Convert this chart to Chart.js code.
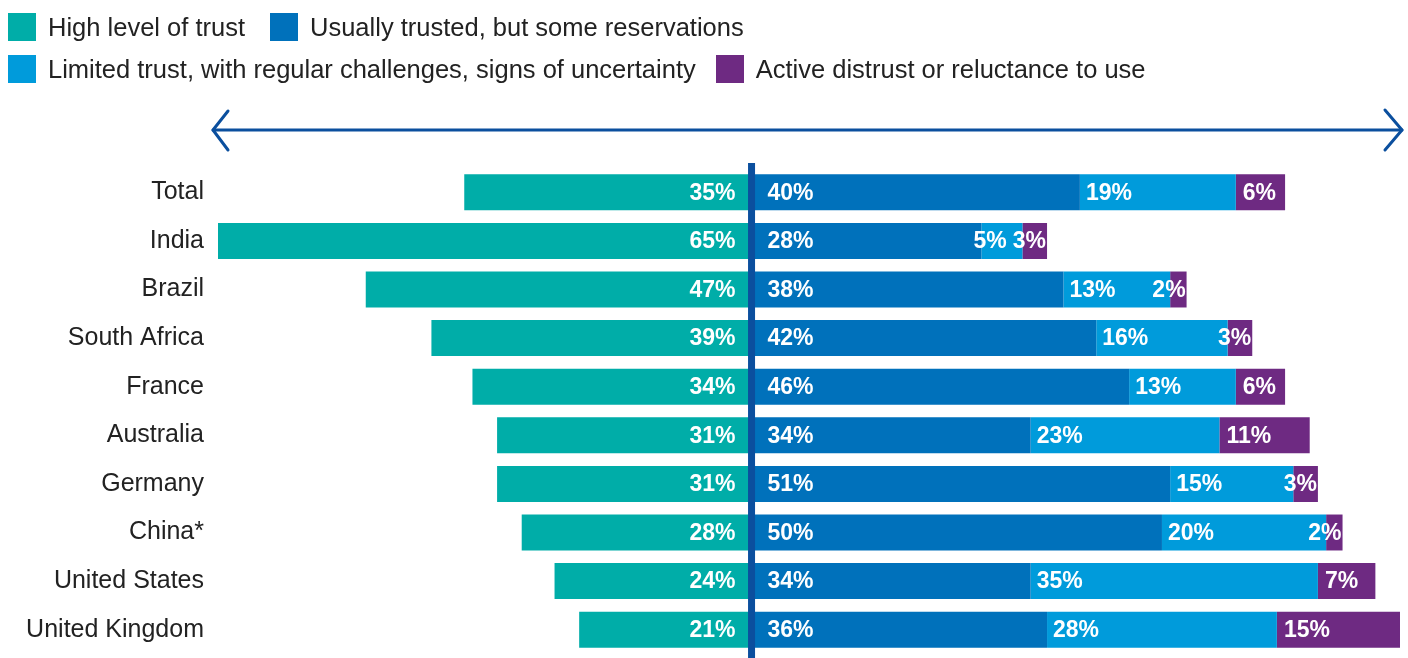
<!DOCTYPE html>
<html><head><meta charset="utf-8">
<script src="https://cdn.jsdelivr.net/npm/chart.js@4.4.1/dist/chart.umd.min.js"></script>
<style>
html,body{margin:0;padding:0;background:#fff;}
#wrap{position:relative;width:1408px;height:658px;overflow:hidden;}
#legend{position:absolute;left:8px;top:0;font-family:"Liberation Sans",Arial,sans-serif;font-size:25.5px;color:#222;}
.row{position:absolute;left:0;display:flex;align-items:center;white-space:nowrap;height:28px;}
.item{display:flex;align-items:center;}
.box{width:28px;height:28px;margin-right:12px;}
canvas{position:absolute;left:0;top:0;}
</style></head>
<body><div id="wrap"><canvas id="c" width="1408" height="683"></canvas><div id="legend"></div></div>
<script>
const categories = ["Total","India","Brazil","South Africa","France","Australia","Germany","China*","United States","United Kingdom"];
const seriesNames = ["High level of trust","Usually trusted, but some reservations","Limited trust, with regular challenges, signs of uncertainty","Active distrust or reluctance to use"];
const high     = [35,65,47,39,34,31,31,28,24,21];
const usually  = [40,28,38,42,46,34,51,50,34,36];
const limited  = [19, 5,13,16,13,23,15,20,35,28];
const distrust = [ 6, 3, 2, 3, 6,11, 3, 2, 7,15];
const colors = ["#00ADA8","#0071BB","#009BDB","#6E2A82"];
const FONT = '"Liberation Sans", Arial, sans-serif';

// HTML legend (two rows)
const legendRows = [[0,1],[2,3]];
const rowGaps = [25,20];
const legend = document.getElementById('legend');
legendRows.forEach((r,ri)=>{
  const row=document.createElement('div'); row.className='row'; row.style.top=(13+ri*42)+'px';
  r.forEach(k=>{
    const it=document.createElement('div'); it.className='item'; it.style.marginRight=rowGaps[ri]+'px';
    const b=document.createElement('div'); b.className='box'; b.style.background=colors[k];
    const t=document.createElement('span'); t.textContent=seriesNames[k];
    it.appendChild(b); it.appendChild(t); row.appendChild(it);
  });
  legend.appendChild(row);
});

const decorPlugin = {
  id:'decor',
  afterDatasetsDraw(chart){
    const ctx=chart.ctx, a=chart.chartArea, xs=chart.scales.x;
    ctx.save();
    // double-headed arrow
    ctx.strokeStyle='#0B4F9E'; ctx.lineWidth=3; ctx.lineCap='round'; ctx.lineJoin='round';
    const yA=130, L=a.left-5, R=a.right+2;
    ctx.beginPath(); ctx.moveTo(L,yA); ctx.lineTo(R,yA); ctx.stroke();
    ctx.beginPath(); ctx.moveTo(L+15,yA-19); ctx.lineTo(L,yA); ctx.lineTo(L+15,yA+20); ctx.stroke();
    ctx.beginPath(); ctx.moveTo(R-17,yA-20); ctx.lineTo(R,yA); ctx.lineTo(R-17,yA+20); ctx.stroke();
    // center line
    const x0=xs.getPixelForValue(0);
    ctx.fillStyle='#0B4F9E';
    ctx.fillRect(x0-3.5, 163, 7, chart.height-163);
    // value labels
    ctx.font='bold 23px '+FONT;
    ctx.fillStyle='#fff';
    ctx.textBaseline='middle';
    const m=[0,1,2,3].map(d=>chart.getDatasetMeta(d));
    categories.forEach((c,i)=>{
      const vals=[high[i],usually[i],limited[i],distrust[i]];
      const el=m.map(mm=>mm.data[i]);
      const y=el[0].y+1;
      const txt=vals.map(v=>v+'%');
      ctx.textAlign='right'; ctx.fillText(txt[0], el[0].base-16, y);
      ctx.textAlign='left'; ctx.fillText(txt[1], el[1].base+16, y);
      const w3=ctx.measureText(txt[3]).width, s3=el[3].base, e3=el[3].x;
      let x3=s3+7; if(x3+w3>e3-1) x3=e3-1-w3;
      const w2=ctx.measureText(txt[2]).width, s2=el[2].base, e2=el[2].x;
      const lim=Math.min(e2-1, x3-6);
      let x2=s2+6; if(x2+w2>lim) x2=lim-w2;
      ctx.fillText(txt[2],x2,y); ctx.fillText(txt[3],x3,y);
    });
    ctx.restore();
  }
};

const ds = (label,data,color)=>({label,data,backgroundColor:color,borderWidth:0,barPercentage:0.74,categoryPercentage:1.0});
new Chart(document.getElementById('c'),{
  type:'bar',
  data:{labels:categories,datasets:[
    ds(seriesNames[0], high.map(v=>-v), colors[0]),
    ds(seriesNames[1], usually, colors[1]),
    ds(seriesNames[2], limited, colors[2]),
    ds(seriesNames[3], distrust, colors[3])
  ]},
  options:{
    indexAxis:'y', responsive:false, animation:false, devicePixelRatio:1,
    layout:{padding:{top:168,bottom:4,left:0,right:8}},
    plugins:{legend:{display:false},tooltip:{enabled:false}},
    scales:{
      x:{type:'linear',stacked:true,min:-65,max:79,display:false},
      y:{stacked:true,grid:{display:false,drawTicks:false},border:{display:false},
         ticks:{padding:14,color:'#222',font:{size:25,family:FONT}},
         afterFit(s){s.width=218;}}
    }
  },
  plugins:[decorPlugin]
});
</script>
</body></html>
